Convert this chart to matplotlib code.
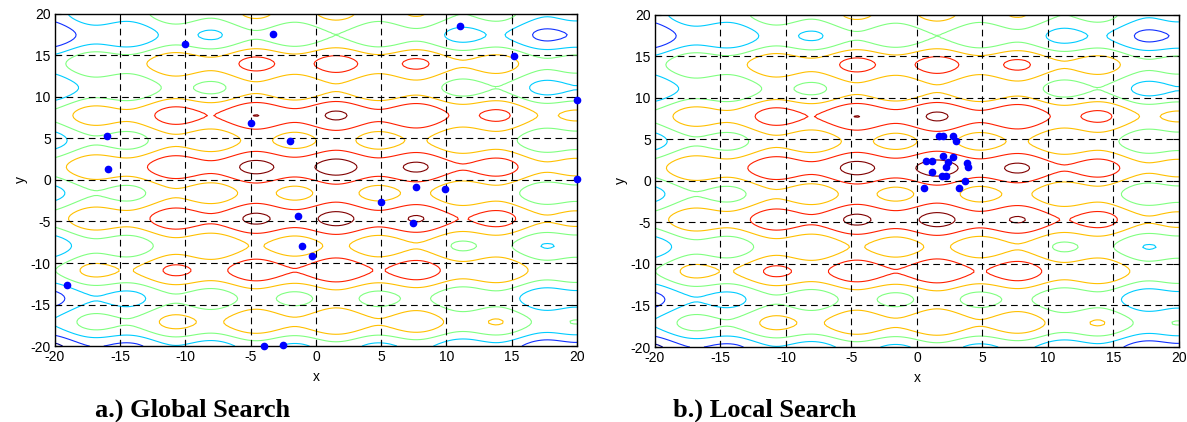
import numpy as np
import matplotlib
matplotlib.use('Agg')
import matplotlib.pyplot as plt

plt.rcParams['axes.unicode_minus'] = False

# surface: a*sin(x) + b*sin(y) - c*((x-x0)^2 + (y-y0)^2) + offset
amp_x, amp_y, decay, offset = 0.40, 0.97, 0.005, 0.08
x0, y0 = 0.5, 0.0
levels = [-5, -4, -3, -2, -1, 0, 1]
level_colors = ['#000090', '#1030ff', '#00ccff', '#80ff80', '#ffc000', '#ff2000', '#800000']

# points found by the global search (left panel)
global_x = [-10.0, -3.3, 11.0, 15.2, 20.0, -16.0, -5.0, -2.0, -15.9, 20.0,
            7.7, 9.9, 5.0, -1.4, 7.4, -1.1, -0.3, -19.1, -4.0, -2.5]
global_y = [16.4, 17.6, 18.5, 14.9, 9.6, 5.3, 6.9, 4.7, 1.3, 0.1,
            -0.8, -1.1, -2.7, -4.3, -5.2, -7.9, -9.1, -12.7, -20.0, -19.9]

# points found by the local search (right panel)
local_x = [1.70, 1.96, 2.73, 2.98, 2.01, 2.73, 2.39, 0.69, 1.12, 3.85,
           3.93, 2.21, 1.12, 1.88, 2.21, 3.66, 0.53, 3.23]
local_y = [5.42, 5.42, 5.42, 4.86, 3.05, 2.93, 2.33, 2.45, 2.45, 2.21,
           1.65, 1.65, 1.12, 0.60, 0.60, 0.04, -0.88, -0.88]

ticks = [-20, -15, -10, -5, 0, 5, 10, 15, 20]
captions = ['a.) Global Search', 'b.) Local Search']

gx = np.linspace(-20, 20, 161)
gy = np.linspace(-20, 20, 161)
X, Y = np.meshgrid(gx, gy)
Z = (amp_x * np.sin(X) + amp_y * np.sin(Y)
     - decay * ((X - x0) ** 2 + (Y - y0) ** 2) + offset)

fig = plt.figure(figsize=(11.87, 4.22), dpi=100)
ax1 = fig.add_axes([0.0463, 0.180, 0.4398, 0.787])
ax2 = fig.add_axes([0.5518, 0.1777, 0.4414, 0.787])

for ax, px, py in [(ax1, global_x, global_y), (ax2, local_x, local_y)]:
    ax.contour(X, Y, Z, levels=levels, colors=level_colors, linewidths=0.8)
    for t in ticks[1:-1]:
        ax.axvline(t, color='black', lw=0.8, ls=(0, (6, 4)), zorder=2)
        ax.axhline(t, color='black', lw=0.8, ls=(0, (6, 4)), zorder=2)
    ax.plot(px, py, 'o', color='#0000ff', ms=4.5, clip_on=False, zorder=5)
    ax.set_xlim(-20, 20)
    ax.set_ylim(-20, 20)
    ax.set_xticks(ticks)
    ax.set_yticks(ticks)
    ax.tick_params(direction='in', length=4, width=0.8, top=True, right=True,
                   labelsize=10, pad=3)
    for lab in ax.get_xticklabels() + ax.get_yticklabels():
        lab.set_family('Liberation Sans')
    for s in ax.spines.values():
        s.set_linewidth(1.0)
    ax.set_xlabel('x', family='Liberation Sans', fontsize=10, labelpad=4)
    ax.set_ylabel('y', family='Liberation Sans', fontsize=10, labelpad=2)

fig.text(95 / 1187, 1 - 417 / 422, captions[0], family='Liberation Serif',
         weight='bold', fontsize=19, ha='left', va='baseline')
fig.text(673 / 1187, 1 - 417 / 422, captions[1], family='Liberation Serif',
         weight='bold', fontsize=19, ha='left', va='baseline')

fig.savefig('out.png', dpi=100)
